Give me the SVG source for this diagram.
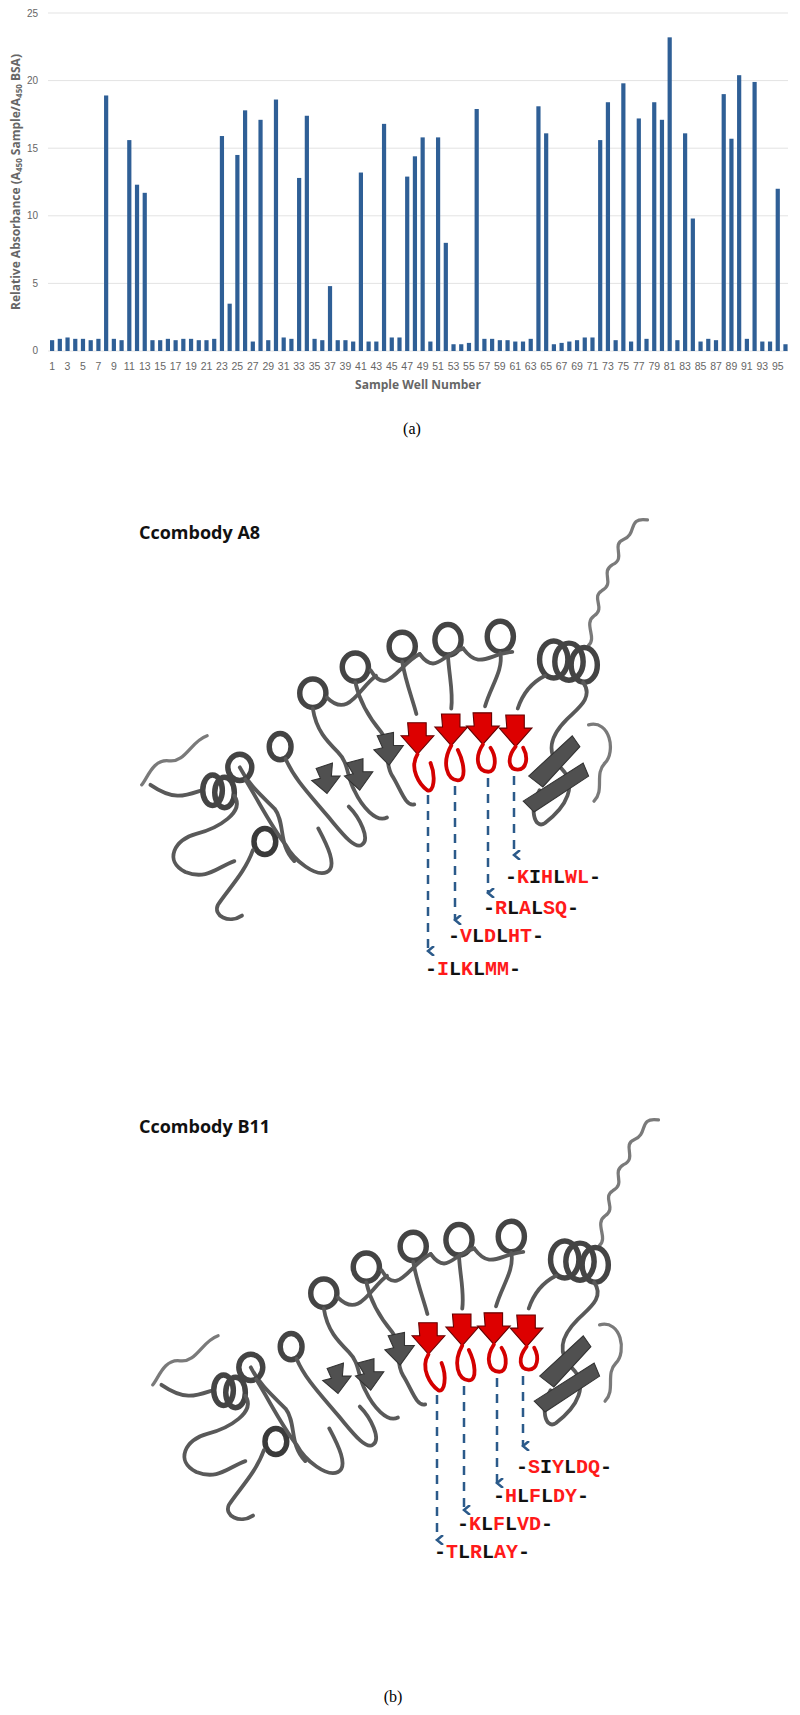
<svg xmlns="http://www.w3.org/2000/svg" width="800" height="1715" viewBox="0 0 800 1715">
<style>
.grid{stroke:#e3e3e3;stroke-width:1}
.ax{font-family:"Liberation Sans",Arial,sans-serif;font-size:10px;fill:#666}
.at{font-family:"Open Sans","Liberation Sans",sans-serif;font-size:12px;font-weight:bold;fill:#666}
.cap{font-family:"Liberation Serif","Times New Roman",serif;font-size:16px;fill:#000}
.ttl{font-family:"Open Sans","Liberation Sans",sans-serif;font-size:18px;font-weight:bold;fill:#111}
.seq{font-family:"Liberation Mono","Courier New",monospace;font-size:20px;font-weight:bold;fill:#111}
.r{fill:#ff1a1a}
.dash{stroke:#2b5a8a;stroke-width:2.5;stroke-dasharray:9,7;fill:none}
.rib{fill:none;stroke:#595959;stroke-width:3.5;stroke-linecap:round;stroke-linejoin:round}
.ribl{fill:none;stroke:#7a7a7a;stroke-width:3;stroke-linecap:round}
.red{fill:none;stroke:#d40000;stroke-width:3.5;stroke-linecap:round}
.coil{fill:none;stroke:#444;stroke-width:5}
.arr{fill:#505050;stroke:#333;stroke-width:1}
.rarr{fill:#d00;stroke:#600;stroke-width:1}
</style>
<defs>
<marker id="ah" viewBox="0 0 10 10" refX="5" refY="8" markerWidth="4" markerHeight="4" orient="auto"><path d="M0,2 L5,8 L10,2" fill="none" stroke="#2b5a8a" stroke-width="2.5"/></marker>
<symbol id="prot" overflow="visible">
<path class="ribl" d="M594,477 C575,474 585,490 572,495 C560,500 575,512 562,518 C550,525 565,535 552,542 C542,548 556,558 545,565 C535,572 548,585 540,592"/>
<ellipse class="coil" cx="508" cy="605" rx="13" ry="17"/>
<ellipse class="coil" cx="522" cy="607" rx="13" ry="17"/>
<ellipse class="coil" cx="536" cy="610" rx="12" ry="16"/>
<path class="rib" d="M535,626 C545,640 530,650 520,660 C505,675 500,690 515,705 C530,720 520,740 500,755 C490,762 485,740 495,725"/>
<polygon class="arr" points="485,712 525,675 532,685 498,722"/>
<polygon class="arr" points="480,735 535,700 540,712 490,745"/>
<path class="ribl" d="M540,665 C560,660 565,690 555,700 C545,710 555,725 545,735"/>
<path class="ribl" d="M190,675 C175,680 170,700 155,698 C140,696 135,715 130,720"/>
<path class="rib" d="M138,720 C160,735 170,730 185,725"/>
<ellipse class="coil" cx="195" cy="725" rx="9" ry="14"/>
<ellipse class="coil" cx="206" cy="727" rx="9" ry="14"/>
<path class="rib" d="M215,730 C225,745 200,760 180,765 C160,770 150,790 170,800 C190,808 200,795 215,790"/>
<ellipse cx="243" cy="772" rx="10" ry="12" fill="none" stroke="#3a3a3a" stroke-width="5"/>
<path class="rib" d="M232,780 C225,800 210,815 200,830 C195,840 210,848 222,840"/>
<path class="rib" d="M220,704 C228,720 240,730 252,742 C262,755 255,775 270,790"/>
<ellipse class="coil" cx="220" cy="704" rx="11" ry="12"/>
<path class="rib" d="M225,715 C240,740 250,760 262,775 C270,790 290,805 300,800 C310,795 300,775 292,760"/>
<ellipse class="coil" cx="257" cy="685" rx="10" ry="12"/>
<path class="rib" d="M262,696 C270,715 285,730 300,748 C312,762 325,780 332,775 C340,770 330,750 320,740"/>
<polygon class="arr" points="290,705 305,700 304,712 312,712 300,728 286,716 294,714"/>
<ellipse class="coil" cx="287" cy="636" rx="12" ry="13"/>
<path class="rib" d="M287,650 C290,670 300,680 310,690 C320,700 318,712 325,725 C332,740 345,755 355,750"/>
<polygon class="arr" points="318,700 333,696 333,708 342,708 330,725 316,712 324,710"/>
<ellipse class="coil" cx="326" cy="612" rx="12" ry="13"/>
<path class="rib" d="M326,626 C330,645 340,660 350,672 C358,682 352,700 360,712 C368,725 372,740 380,738"/>
<polygon class="arr" points="346,675 361,672 361,684 370,684 357,702 343,688 351,686"/>
<ellipse class="coil" cx="369" cy="593" rx="12" ry="13"/>
<path class="rib" d="M369,607 C372,625 378,640 382,655"/>
<ellipse class="coil" cx="411" cy="587" rx="12" ry="14"/>
<path class="rib" d="M411,602 C412,620 416,635 414,650"/>
<ellipse class="coil" cx="459" cy="584" rx="12" ry="14"/>
<path class="rib" d="M459,599 C462,615 450,630 445,648"/>
<path class="rib" d="M475,650 C480,635 490,625 500,620"/>
<path class="rib" d="M300,640 C320,660 330,630 345,620"/>
<path class="rib" d="M340,615 C355,640 365,610 385,600"/>
<path class="rib" d="M385,600 C400,620 405,600 425,595"/>
<path class="rib" d="M425,595 C440,615 448,600 470,598"/>
<polygon class="rarr" points="374,663 391,663 391,675 398,675 383,692 368,675 375,675"/>
<path class="red" d="M383,692 C375,705 385,720 392,725 C398,728 400,712 395,700"/>
<polygon class="rarr" points="405,655 422,655 422,667 429,667 414,684 399,667 406,667"/>
<path class="red" d="M414,684 C405,700 410,715 420,716 C428,716 426,700 420,688"/>
<polygon class="rarr" points="434,654 451,654 451,666 458,666 443,683 428,666 435,666"/>
<path class="red" d="M443,683 C435,695 438,708 448,708 C455,708 456,695 450,686"/>
<polygon class="rarr" points="464,656 481,656 481,668 488,668 473,685 458,668 465,668"/>
<path class="red" d="M473,685 C465,695 466,706 475,706 C483,706 485,695 480,686"/>
</symbol>
</defs>

<g id="chart">
<g class="grid">
<line x1="48" y1="13" x2="788" y2="13"/><line x1="48" y1="80.6" x2="788" y2="80.6"/><line x1="48" y1="148.2" x2="788" y2="148.2"/><line x1="48" y1="215.8" x2="788" y2="215.8"/><line x1="48" y1="283.4" x2="788" y2="283.4"/><line x1="48" y1="351" x2="788" y2="351"/>
</g>
<g class="ax" text-anchor="end">
<text x="38" y="17">25</text><text x="38" y="84">20</text><text x="38" y="152">15</text><text x="38" y="219">10</text><text x="38" y="287">5</text><text x="38" y="354">0</text>
</g>
<g transform="matrix(1.0503,0,0,-13.52,2.74,351)" fill="#2f5f96">
<rect x="45" y="0" width="4" height=".8"/><rect x="52.35" y="0" width="4" height=".9"/><rect x="59.7" y="0" width="4" height="1"/><rect x="67.05" y="0" width="4" height=".9"/><rect x="74.4" y="0" width="4" height=".9"/><rect x="81.75" y="0" width="4" height=".8"/><rect x="89.1" y="0" width="4" height=".9"/><rect x="96.45" y="0" width="4" height="18.9"/><rect x="103.8" y="0" width="4" height=".9"/><rect x="111.15" y="0" width="4" height=".8"/>
<rect x="118.5" y="0" width="4" height="15.6"/><rect x="125.85" y="0" width="4" height="12.3"/><rect x="133.2" y="0" width="4" height="11.7"/><rect x="140.55" y="0" width="4" height=".8"/><rect x="147.9" y="0" width="4" height=".8"/><rect x="155.25" y="0" width="4" height=".9"/><rect x="162.6" y="0" width="4" height=".8"/><rect x="169.95" y="0" width="4" height=".9"/><rect x="177.3" y="0" width="4" height=".9"/><rect x="184.65" y="0" width="4" height=".8"/>
<rect x="192" y="0" width="4" height=".8"/><rect x="199.35" y="0" width="4" height=".9"/><rect x="206.7" y="0" width="4" height="15.9"/><rect x="214.05" y="0" width="4" height="3.5"/><rect x="221.4" y="0" width="4" height="14.5"/><rect x="228.75" y="0" width="4" height="17.8"/><rect x="236.1" y="0" width="4" height=".7"/><rect x="243.45" y="0" width="4" height="17.1"/><rect x="250.8" y="0" width="4" height=".8"/><rect x="258.15" y="0" width="4" height="18.6"/>
<rect x="265.5" y="0" width="4" height="1"/><rect x="272.85" y="0" width="4" height=".9"/><rect x="280.2" y="0" width="4" height="12.8"/><rect x="287.55" y="0" width="4" height="17.4"/><rect x="294.9" y="0" width="4" height=".9"/><rect x="302.25" y="0" width="4" height=".8"/><rect x="309.6" y="0" width="4" height="4.8"/><rect x="316.95" y="0" width="4" height=".8"/><rect x="324.3" y="0" width="4" height=".8"/><rect x="331.65" y="0" width="4" height=".7"/>
<rect x="339" y="0" width="4" height="13.2"/><rect x="346.35" y="0" width="4" height=".7"/><rect x="353.7" y="0" width="4" height=".7"/><rect x="361.05" y="0" width="4" height="16.8"/><rect x="368.4" y="0" width="4" height="1"/><rect x="375.75" y="0" width="4" height="1"/><rect x="383.1" y="0" width="4" height="12.9"/><rect x="390.45" y="0" width="4" height="14.4"/><rect x="397.8" y="0" width="4" height="15.8"/><rect x="405.15" y="0" width="4" height=".7"/>
<rect x="412.5" y="0" width="4" height="15.8"/><rect x="419.85" y="0" width="4" height="8"/><rect x="427.2" y="0" width="4" height=".5"/><rect x="434.55" y="0" width="4" height=".5"/><rect x="441.9" y="0" width="4" height=".6"/><rect x="449.25" y="0" width="4" height="17.9"/><rect x="456.6" y="0" width="4" height=".9"/><rect x="463.95" y="0" width="4" height=".9"/><rect x="471.3" y="0" width="4" height=".8"/><rect x="478.65" y="0" width="4" height=".8"/>
<rect x="486" y="0" width="4" height=".7"/><rect x="493.35" y="0" width="4" height=".7"/><rect x="500.7" y="0" width="4" height=".9"/><rect x="508.05" y="0" width="4" height="18.1"/><rect x="515.4" y="0" width="4" height="16.1"/><rect x="522.75" y="0" width="4" height=".5"/><rect x="530.1" y="0" width="4" height=".6"/><rect x="537.45" y="0" width="4" height=".7"/><rect x="544.8" y="0" width="4" height=".8"/><rect x="552.15" y="0" width="4" height="1"/>
<rect x="559.5" y="0" width="4" height="1"/><rect x="566.85" y="0" width="4" height="15.6"/><rect x="574.2" y="0" width="4" height="18.4"/><rect x="581.55" y="0" width="4" height=".8"/><rect x="588.9" y="0" width="4" height="19.8"/><rect x="596.25" y="0" width="4" height=".7"/><rect x="603.6" y="0" width="4" height="17.2"/><rect x="610.95" y="0" width="4" height=".9"/><rect x="618.3" y="0" width="4" height="18.4"/><rect x="625.65" y="0" width="4" height="17.1"/>
<rect x="633" y="0" width="4" height="23.2"/><rect x="640.35" y="0" width="4" height=".8"/><rect x="647.7" y="0" width="4" height="16.1"/><rect x="655.05" y="0" width="4" height="9.8"/><rect x="662.4" y="0" width="4" height=".7"/><rect x="669.75" y="0" width="4" height=".9"/><rect x="677.1" y="0" width="4" height=".8"/><rect x="684.45" y="0" width="4" height="19"/><rect x="691.8" y="0" width="4" height="15.7"/><rect x="699.15" y="0" width="4" height="20.4"/>
<rect x="706.5" y="0" width="4" height=".9"/><rect x="713.85" y="0" width="4" height="19.9"/><rect x="721.2" y="0" width="4" height=".7"/><rect x="728.55" y="0" width="4" height=".7"/><rect x="735.9" y="0" width="4" height="12"/><rect x="743.25" y="0" width="4" height=".5"/>
</g>
<g class="ax" text-anchor="middle" transform="matrix(1.0503,0,0,1,2.74,32)">
<text x="47" y="338">1</text><text x="61.7" y="338">3</text><text x="76.4" y="338">5</text><text x="91.1" y="338">7</text><text x="105.8" y="338">9</text><text x="120.5" y="338">11</text><text x="135.2" y="338">13</text><text x="149.9" y="338">15</text><text x="164.6" y="338">17</text><text x="179.3" y="338">19</text><text x="194" y="338">21</text><text x="208.7" y="338">23</text><text x="223.4" y="338">25</text><text x="238.1" y="338">27</text><text x="252.8" y="338">29</text><text x="267.5" y="338">31</text><text x="282.2" y="338">33</text><text x="296.9" y="338">35</text><text x="311.6" y="338">37</text><text x="326.3" y="338">39</text><text x="341" y="338">41</text><text x="355.7" y="338">43</text><text x="370.4" y="338">45</text><text x="385.1" y="338">47</text><text x="399.8" y="338">49</text><text x="414.5" y="338">51</text><text x="429.2" y="338">53</text><text x="443.9" y="338">55</text><text x="458.6" y="338">57</text><text x="473.3" y="338">59</text><text x="488" y="338">61</text><text x="502.7" y="338">63</text><text x="517.4" y="338">65</text><text x="532.1" y="338">67</text><text x="546.8" y="338">69</text><text x="561.5" y="338">71</text><text x="576.2" y="338">73</text><text x="590.9" y="338">75</text><text x="605.6" y="338">77</text><text x="620.3" y="338">79</text><text x="635" y="338">81</text><text x="649.7" y="338">83</text><text x="664.4" y="338">85</text><text x="679.1" y="338">87</text><text x="693.8" y="338">89</text><text x="708.5" y="338">91</text><text x="723.2" y="338">93</text><text x="737.9" y="338">95</text>
</g>
<text class="at" x="418" y="389" text-anchor="middle">Sample Well Number</text>
<text class="at" transform="translate(20,182) rotate(-90)" text-anchor="middle">Relative Absorbance (A<tspan font-size="8" dy="2">450</tspan><tspan dy="-2"> Sample/A</tspan><tspan font-size="8" dy="2">450</tspan><tspan dy="-2"> BSA)</tspan></text>
<text class="cap" x="412" y="434" text-anchor="middle">(a)</text>
</g>

<g id="a8">
<text class="ttl" x="139" y="539">Ccombody A8</text>
<use href="#prot" transform="scale(1.09)"/>
</g>
<g id="b11">
<text class="ttl" x="139" y="1133">Ccombody B11</text>
<use href="#prot" transform="translate(11,600) scale(1.09)"/>
</g>

<g id="connectors">
<line class="dash" x1="428" y1="795" x2="428" y2="951" marker-end="url(#ah)"/>
<line class="dash" x1="455" y1="786" x2="455" y2="920" marker-end="url(#ah)"/>
<line class="dash" x1="488" y1="778" x2="488" y2="893" marker-end="url(#ah)"/>
<line class="dash" x1="514" y1="776" x2="514" y2="855" marker-end="url(#ah)"/>
<line class="dash" x1="437" y1="1395" x2="437" y2="1540" marker-end="url(#ah)"/>
<line class="dash" x1="464" y1="1386" x2="464" y2="1510" marker-end="url(#ah)"/>
<line class="dash" x1="497" y1="1378" x2="497" y2="1483" marker-end="url(#ah)"/>
<line class="dash" x1="523" y1="1376" x2="523" y2="1446" marker-end="url(#ah)"/>
</g>

<g id="seqs" class="seq">
<text x="505" y="883">-<tspan class="r">K</tspan>I<tspan class="r">H</tspan>L<tspan class="r">WL</tspan>-</text>
<text x="483" y="914">-<tspan class="r">R</tspan>L<tspan class="r">A</tspan>L<tspan class="r">SQ</tspan>-</text>
<text x="448" y="942">-<tspan class="r">V</tspan>L<tspan class="r">D</tspan>L<tspan class="r">HT</tspan>-</text>
<text x="425" y="975">-<tspan class="r">I</tspan>L<tspan class="r">K</tspan>L<tspan class="r">MM</tspan>-</text>
<text x="516" y="1473">-<tspan class="r">S</tspan>I<tspan class="r">Y</tspan>L<tspan class="r">DQ</tspan>-</text>
<text x="493" y="1502">-<tspan class="r">H</tspan>L<tspan class="r">F</tspan>L<tspan class="r">DY</tspan>-</text>
<text x="457" y="1530">-<tspan class="r">K</tspan>L<tspan class="r">F</tspan>L<tspan class="r">VD</tspan>-</text>
<text x="434" y="1558">-<tspan class="r">T</tspan>L<tspan class="r">R</tspan>L<tspan class="r">AY</tspan>-</text>
</g>
<text class="cap" x="393" y="1702" text-anchor="middle">(b)</text>
</svg>
